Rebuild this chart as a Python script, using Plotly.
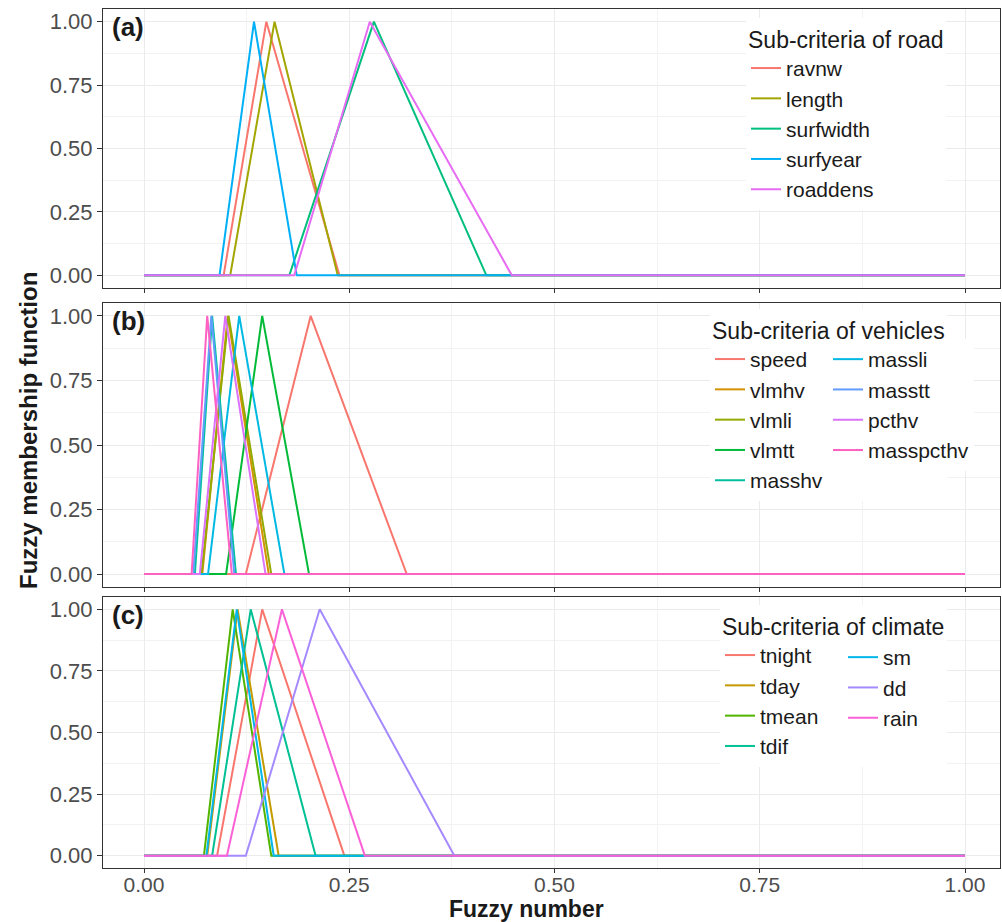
import plotly.graph_objects as go

# Triangular fuzzy numbers (left, peak, right) for each sub-criterion
road_names = ["ravnw", "length", "surfwidth", "surfyear", "roaddens"]
road_left = [0.097, 0.105, 0.177, 0.092, 0.183]
road_peak = [0.149, 0.159, 0.280, 0.134, 0.275]
road_right = [0.238, 0.236, 0.417, 0.186, 0.448]
road_colors = ["#F8766D", "#A3A500", "#00BF7D", "#00B0F6", "#E76BF3"]

veh_names = ["speed", "vlmhv", "vlmli", "vlmtt", "masshv",
             "massli", "masstt", "pcthv", "masspcthv"]
veh_left = [0.124, 0.071, 0.070, 0.100, 0.062, 0.078, 0.060, 0.068, 0.058]
veh_peak = [0.203, 0.102, 0.103, 0.144, 0.083, 0.116, 0.082, 0.099, 0.077]
veh_right = [0.320, 0.152, 0.155, 0.201, 0.112, 0.171, 0.110, 0.148, 0.107]
veh_colors = ["#F8766D", "#D39200", "#93AA00", "#00BA38", "#00C19F",
              "#00B9E3", "#619CFF", "#DB72FB", "#FF61C3"]

clim_names = ["tnight", "tday", "tmean", "tdif", "sm", "dd", "rain"]
clim_left = [0.089, 0.077, 0.073, 0.083, 0.076, 0.124, 0.101]
clim_peak = [0.144, 0.114, 0.108, 0.130, 0.113, 0.214, 0.168]
clim_right = [0.244, 0.164, 0.155, 0.209, 0.158, 0.378, 0.269]
clim_colors = ["#F8766D", "#C49A00", "#53B400", "#00C094", "#00B6EB",
               "#A58AFF", "#FB61D7"]

x_ticks = [0, 0.25, 0.5, 0.75, 1.0]
x_tick_text = ["0.00", "0.25", "0.50", "0.75", "1.00"]
y_ticks = [0, 0.25, 0.5, 0.75, 1.0]
y_tick_text = ["0.00", "0.25", "0.50", "0.75", "1.00"]

W, H = 1002, 922
FONT = "Liberation Sans, Arial, sans-serif"

# pixel layout of the three stacked panels (top, bottom)
panel_px = [(9, 288), (303, 587), (597, 868)]
x_px = (103, 1000)
px_per_unit = 821.0
x0_px = 144.0
x_range = [-(x0_px - x_px[0]) / px_per_unit, (x_px[1] - x0_px) / px_per_unit]

fig = go.Figure()


def add_panel(idx, names, left, peak, right, colors, legend_of):
    ax = "" if idx == 1 else str(idx)
    for i, nm in enumerate(names):
        fig.add_trace(go.Scatter(
            x=[0, left[i], peak[i], right[i], 1],
            y=[0, 0, 1, 0, 0],
            mode="lines",
            name=nm,
            line=dict(color=colors[i], width=2),
            xaxis="x" + ax, yaxis="y" + ax,
            legend=legend_of(i),
            hoverinfo="x+y+name",
        ))


add_panel(1, road_names, road_left, road_peak, road_right, road_colors,
          lambda i: "legend")
add_panel(2, veh_names, veh_left, veh_peak, veh_right, veh_colors,
          lambda i: "legend2" if i < 5 else "legend3")
add_panel(3, clim_names, clim_left, clim_peak, clim_right, clim_colors,
          lambda i: "legend4" if i < 4 else "legend5")

grid_major = "#EBEBEB"
grid_minor = "#F2F2F2"
layout = dict(
    width=W, height=H,
    margin=dict(l=0, r=0, t=0, b=0),
    paper_bgcolor="white", plot_bgcolor="white",
    font=dict(family=FONT, size=22, color="#1A1A1A"),
    showlegend=True,
)

for k, (top, bot) in enumerate(panel_px, start=1):
    ax = "" if k == 1 else str(k)
    layout["xaxis" + ax] = dict(
        domain=[x_px[0] / W, x_px[1] / W],
        range=x_range, anchor="y" + ax,
        tickvals=x_ticks, ticktext=x_tick_text,
        showticklabels=(k == 3),
        ticks="outside", ticklen=4, tickwidth=1, tickcolor="#333333",
        ticklabelstandoff=-6,
        showgrid=True, gridcolor=grid_major, gridwidth=1.3,
        minor=dict(dtick=0.125, tick0=0, showgrid=True,
                   gridcolor=grid_minor, gridwidth=0.8),
        showline=True, linecolor="#333333", linewidth=1, mirror=True,
        zeroline=False,
        tickfont=dict(size=21, color="#4D4D4D"),
        automargin=False,
    )
    layout["yaxis" + ax] = dict(
        domain=[1 - bot / H, 1 - top / H],
        range=[-0.05, 1.05], anchor="x" + ax,
        tickvals=y_ticks, ticktext=y_tick_text,
        ticks="outside", ticklen=5, tickwidth=1, tickcolor="#333333",
        showgrid=True, gridcolor=grid_major, gridwidth=1.3,
        minor=dict(dtick=0.125, tick0=0, showgrid=True,
                   gridcolor=grid_minor, gridwidth=0.8),
        showline=True, linecolor="#333333", linewidth=1, mirror=True,
        zeroline=False,
        tickfont=dict(size=22, color="#4D4D4D"),
        automargin=False,
    )

leg_common = dict(
    bgcolor="white", borderwidth=0, font=dict(size=21, color="#1A1A1A"),
    itemwidth=30, tracegroupgap=0, xanchor="left", yanchor="top",
    itemclick=False, itemdoubleclick=False,
)
title_font = dict(size=23, color="#1A1A1A")
layout["legend"] = dict(leg_common, x=746 / W, y=1 - 18 / H,
                        title=dict(text="Sub-criteria of road",
                                   font=title_font))
layout["legend2"] = dict(leg_common, x=710 / W, y=1 - 309 / H,
                         title=dict(text="Sub-criteria of vehicles",
                                    font=title_font))
layout["legend3"] = dict(leg_common, x=828 / W, y=1 - 339 / H)
layout["legend4"] = dict(leg_common, x=720 / W, y=1 - 605 / H,
                         title=dict(text="Sub-criteria of climate",
                                    font=title_font))
layout["legend5"] = dict(leg_common, x=843 / W, y=1 - 637 / H)

annotations = [
    dict(text="<b>Fuzzy membership function</b>", textangle=-90,
         xref="paper", yref="paper", x=28 / W, y=1 - 431 / H,
         showarrow=False, font=dict(size=24, color="#1A1A1A"),
         xanchor="center", yanchor="middle"),
    dict(text="<b>Fuzzy number</b>",
         xref="paper", yref="paper", x=526 / W, y=0,
         showarrow=False, font=dict(size=23, color="#1A1A1A"),
         xanchor="center", yanchor="bottom", borderpad=0, yshift=-1),
]
for k, lab in enumerate(["(a)", "(b)", "(c)"], start=1):
    ax = "" if k == 1 else str(k)
    annotations.append(dict(
        text="<b>" + lab + "</b>", xref="x" + ax + " domain",
        yref="y" + ax + " domain", x=0.008, y=0.995,
        xanchor="left", yanchor="top", showarrow=False,
        font=dict(size=26, color="#1A1A1A")))
layout["annotations"] = annotations

fig.update_layout(**layout)
fig.write_html("out.html")
